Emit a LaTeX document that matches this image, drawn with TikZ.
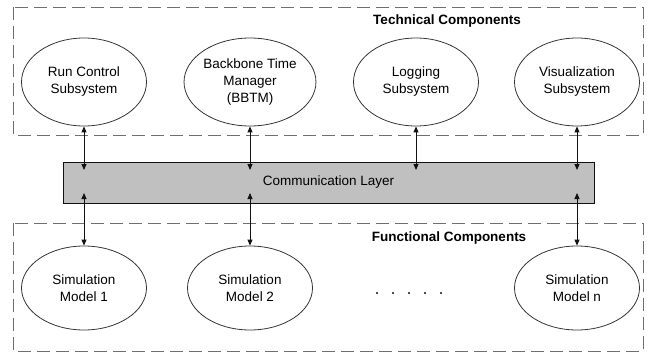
\documentclass[tikz,border=0pt]{standalone}
\usepackage{fontspec}
\setmainfont{Liberation Sans}
\usetikzlibrary{arrows.meta,positioning,shapes.geometric,calc}
\definecolor{layergray}{HTML}{C0C0C0}
\definecolor{dashgray}{HTML}{6E6E6E}
\definecolor{ink}{HTML}{111111}

\tikzset{
  comp/.style={ellipse,draw=ink!85,line width=0.8pt,minimum width=125pt,
               minimum height=88pt,inner sep=0pt,align=center},
  group/.style={draw=dashgray,line width=0.9pt,dash pattern=on 13pt off 6pt},
  link/.style={{Triangle[length=6pt,width=5pt]}-{Triangle[length=6pt,width=5pt]},
               line width=0.9pt,ink},
  grouplabel/.style={font=\fontsize{13.5}{16}\selectfont\bfseries}
}

\begin{document}
\begin{tikzpicture}[x=1pt,y=-1pt,font=\fontsize{13.5}{17}\selectfont]
  \useasboundingbox (0,0) rectangle (650,353);
  % component groups
  \draw[group] (13,7) rectangle (643,135);
  \draw[group] (13,223) rectangle (643,351);
  \node[grouplabel] (techlabel) at (447,21) {Technical Components};
  \node[grouplabel] (funclabel) at (449,238) {Functional Components};
  % communication layer
  \node[draw=ink,fill=layergray,line width=0.9pt,minimum width=531pt,
        minimum height=41pt,inner sep=0pt] (layer) at (328.5,182.5)
        {Communication Layer};
  % technical components
  \node[comp] (runctrl) at (84,82) {Run Control\\Subsystem};
  \node[comp] (bbtm) at (250,82) {Backbone Time\\Manager\\(BBTM)};
  \node[comp] (logging) at (416,82) {Logging\\Subsystem};
  \node[comp,minimum height=88pt] (visual) at (577,82) {Visualization\\Subsystem};
  % functional components
  \node[comp,minimum height=84pt] (sim1) at (84,288) {Simulation\\Model 1};
  \node[comp,minimum height=84pt] (sim2) at (250,288) {Simulation\\Model 2};
  \node[comp,minimum height=84pt] (simn) at (577,288) {Simulation\\Model n};
  \foreach \x in {377,393,409,425,441}
    \fill[ink] (\x,293) circle (1.2);
  % links to the layer
  \foreach \n/\x in {runctrl/84,bbtm/250,logging/416,visual/577}{
    \coordinate (\n-in) at (\x,170);
    \draw[link] (\n) -- (\n-in);
  }
  \foreach \n/\x in {sim1/84,sim2/250,simn/577}{
    \coordinate (\n-in) at (\x,193);
    \draw[link] (\n-in) -- (\n);
  }
\end{tikzpicture}
\end{document}
